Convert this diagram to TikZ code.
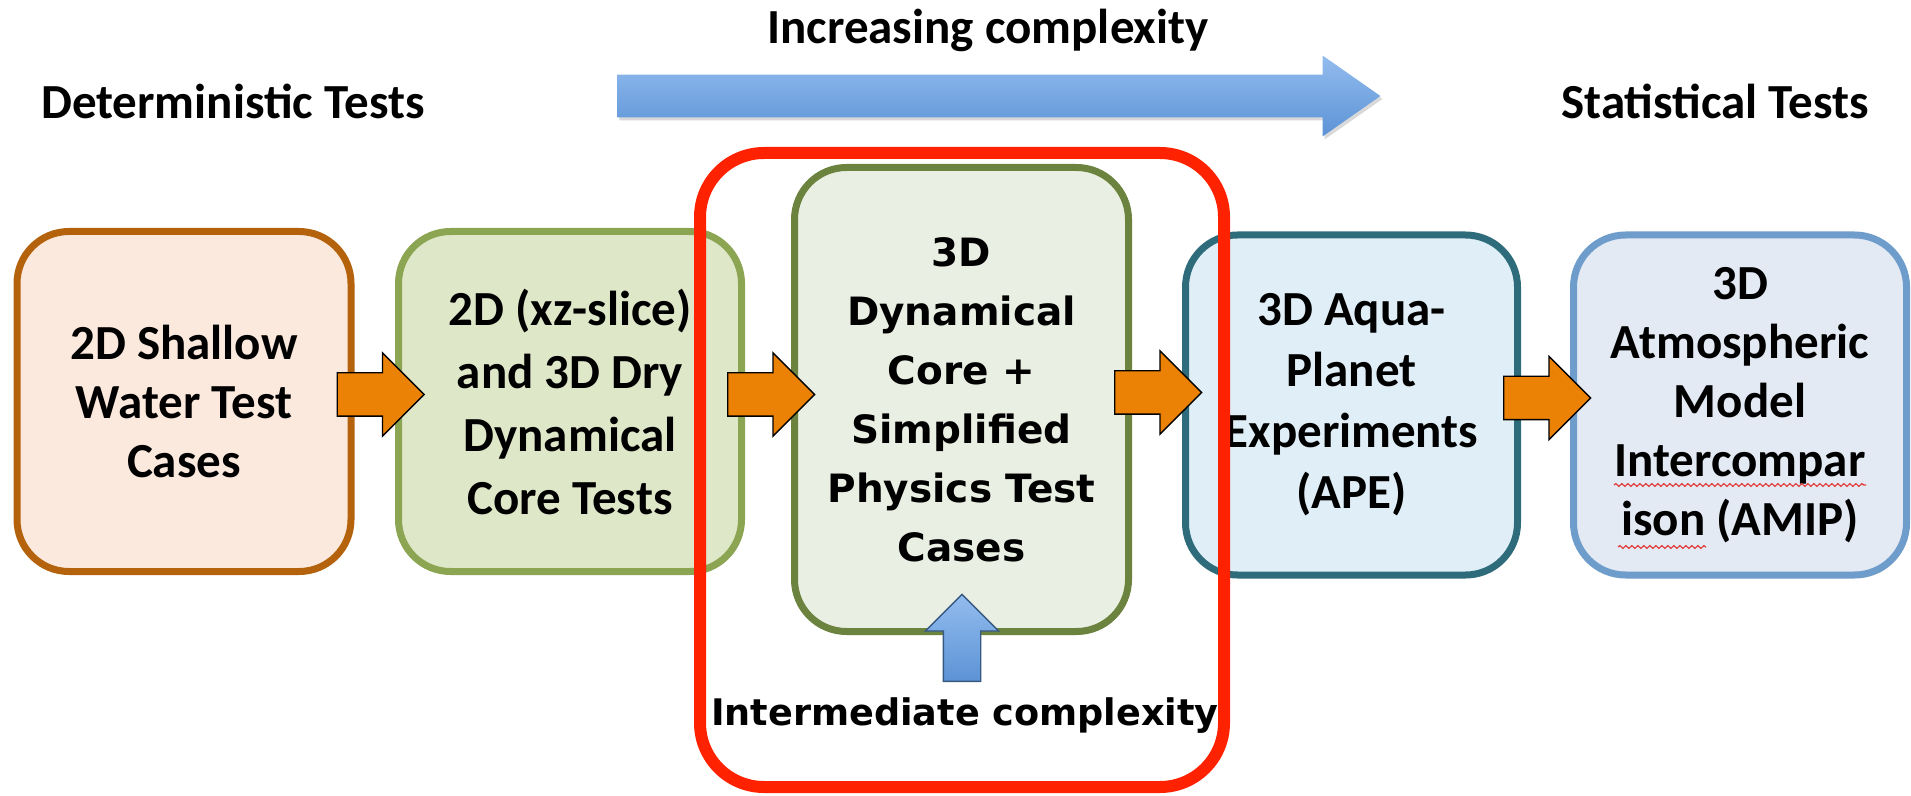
\documentclass[tikz,border=0pt]{standalone}
\usepackage{fontspec}
\setmainfont{Carlito}
\newfontfamily\dvsans{DejaVu Sans}
\usetikzlibrary{calc,shapes.arrows,shadows,decorations.pathmorphing}

\definecolor{peachfill}{HTML}{FBE9DE}
\definecolor{peachline}{HTML}{B4620C}
\definecolor{leaffill}{HTML}{DFE7C9}
\definecolor{leafline}{HTML}{8CA552}
\definecolor{sagefill}{HTML}{EAEFE3}
\definecolor{sageline}{HTML}{6C8340}
\definecolor{aquafill}{HTML}{E0EFF7}
\definecolor{aqualine}{HTML}{2F6C7B}
\definecolor{skyfill}{HTML}{E3EAF3}
\definecolor{skyline}{HTML}{6E9CCB}
\definecolor{focusred}{HTML}{FF2200}
\definecolor{spellred}{HTML}{E23B3B}
\definecolor{pushorange}{HTML}{EB8105}
\definecolor{bluelight}{HTML}{93BCEE}
\definecolor{bluedark}{HTML}{5C93D6}

\tikzset{
  stage/.style={draw, line width=3.5pt, rounded corners=26pt, align=center,
    inner sep=0pt, minimum width=167pt, minimum height=170pt,
    font=\bfseries\fontsize{24.5}{29.5}\selectfont,
    drop shadow={opacity=.35, shadow xshift=1pt, shadow yshift=-1.5pt}},
  push/.style={single arrow, draw=black, line width=.7pt, fill=pushorange,
    minimum height=43.5pt, minimum width=41pt, single arrow head extend=10pt,
    inner xsep=0pt, inner ysep=10.5pt, anchor=tail},
  heading/.style={font=\bfseries\fontsize{24.5}{29.5}\selectfont},
  spell/.style={spellred, line width=.6pt, decorate,
    decoration={snake, amplitude=.7pt, segment length=3pt}},
}

\begin{document}
\begin{tikzpicture}[x=0.5pt, y=-0.5pt]
  \useasboundingbox (0,0) rectangle (1911,796);

  % top row
  \node[heading] (rise) at (988,30) {Increasing complexity};
  \node[heading] (det) at (233,101) {Deterministic Tests};
  \node[heading] (stat) at (1715,101) {Statistical Tests};
  \node (grow) [single arrow, top color=bluelight, bottom color=bluedark,
    minimum height=381.5pt, minimum width=40pt, single arrow head extend=9.5pt,
    single arrow tip angle=70, inner xsep=0pt, inner ysep=10.5pt, anchor=tail,
    drop shadow={opacity=.3, shadow xshift=1pt, shadow yshift=-1.5pt}]
    at (617,96) {};

  % stages
  \node[stage, draw=peachline, fill=peachfill] (sw) at (184,401.5)
    {2D Shallow\\Water Test\\Cases};
  \node[stage, draw=leafline, fill=leaffill, minimum width=171.5pt,
    font=\bfseries\fontsize{24.5}{31.5}\selectfont] (dry) at (570,401.5)
    {2D (xz-slice)\\and 3D Dry\\Dynamical\\Core Tests};
  \node[stage, draw=sageline, fill=sagefill, minimum height=232pt,
    font=\dvsans\bfseries\fontsize{19.5}{29.5}\selectfont] (phys) at (961.5,399.5)
    {3D\\Dynamical\\Core +\\Simplified\\Physics Test\\Cases};
  \node[stage, draw=aqualine, fill=aquafill, minimum width=166pt,
    font=\bfseries\fontsize{24.5}{30.5}\selectfont] (ape) at (1351.5,405)
    {3D Aqua-\\Planet\\Experiments\\(APE)};
  \node[stage, draw=skyline, fill=skyfill, minimum width=166.5pt] (amip) at (1740,405)
    {3D\\Atmospheric\\Model\\Intercompar\\ison (AMIP)};
  \draw[spell] (1614,485) -- (1866,485);
  \draw[spell] (1618,547) -- (1706,547);

  % flow arrows
  \foreach \a in {sw,dry,phys,ape}
    \node[push] (p-\a) at ($(\a.east)+(-18,-7)$) {};

  % intermediate input
  \node (lift) [single arrow, rotate=90, draw=bluedark!60!black, line width=.7pt,
    top color=bluelight, bottom color=bluedark, minimum height=43.5pt,
    minimum width=36pt, single arrow head extend=9pt, inner xsep=0pt,
    inner ysep=9pt, anchor=tail] at (962,682) {};
  \node[font=\dvsans\bfseries\fontsize{18.3}{22}\selectfont] (mid) at (965,716)
    {Intermediate complexity};

  \node (focus) [draw=focusred, line width=6pt, rounded corners=32pt,
    minimum width=262pt, minimum height=317pt] at (962,470) {};
\end{tikzpicture}
\end{document}
